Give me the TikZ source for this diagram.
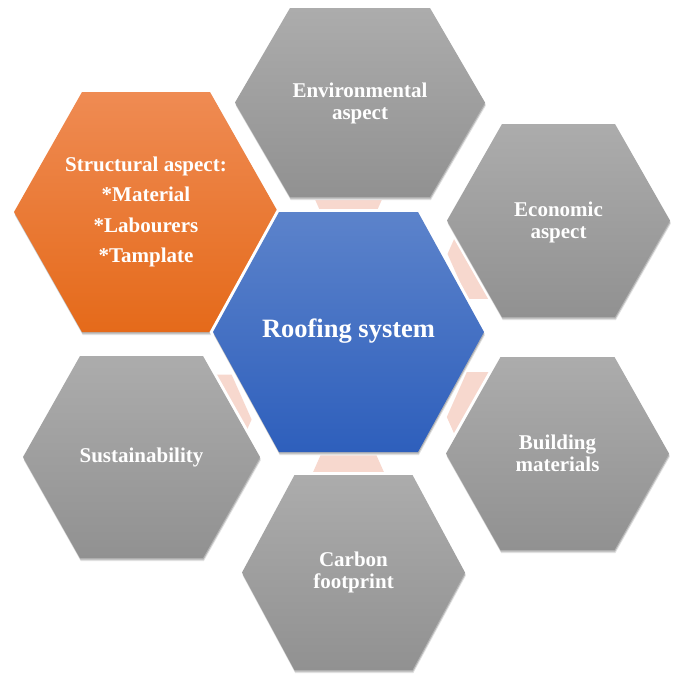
\documentclass[tikz,border=0pt]{standalone}
\usepackage{fontspec}
\setmainfont{Liberation Serif}
\usetikzlibrary{calc,shadows}
\definecolor{grayT}{RGB}{172,172,172}
\definecolor{grayB}{RGB}{145,145,145}
\definecolor{blueT}{RGB}{92,131,203}
\definecolor{blueB}{RGB}{46,95,188}
\definecolor{orT}{RGB}{239,139,83}
\definecolor{orB}{RGB}{229,106,26}
\definecolor{pinkC}{RGB}{247,216,206}
\newcommand{\hexshape}[6]{% style, cx, cy, half width, half top width, half height
  \path[#1] ({#2-#4},{#3}) -- ({#2-#5},{#3-#6}) -- ({#2+#5},{#3-#6}) -- ({#2+#4},{#3}) -- ({#2+#5},{#3+#6}) -- ({#2-#5},{#3+#6}) -- cycle;}
\begin{document}
\begin{tikzpicture}[x=1pt,y=-1pt,
  hexbase/.style={preaction={draw=white, line width=6pt},
    drop shadow={shadow xshift=0.8pt, shadow yshift=-3.2pt, opacity=0.12, fill=black},
    drop shadow={shadow xshift=0.5pt, shadow yshift=-1.6pt, opacity=0.2, fill=black}},
  grayhex/.style={hexbase, top color=grayT, bottom color=grayB},
  bluehex/.style={hexbase, top color=blueT, bottom color=blueB},
  orhex/.style={hexbase, top color=orT, bottom color=orB},
  lbl/.style={text=white, align=center, inner sep=0pt, font=\fontsize{21}{22}\selectfont\bfseries},
  pinkhex/.pic={\path[fill=pinkC] (-48,0) -- (-28,-45) -- (28,-45) -- (48,0) -- (28,45) -- (-28,45) -- cycle;}
]
\useasboundingbox (0,0) rectangle (677,673);
% centres
\coordinate (c) at (348.5,332);
\coordinate (env) at (360,102.5);
\coordinate (eco) at (558.5,220.5);
\coordinate (bld) at (557.5,453.5);
\coordinate (car) at (353.5,572.5);
\coordinate (sus) at (141.5,457);
\coordinate (str) at (146,212);
% connectors (behind)
\pic at ($(c)!0.72!(c|-env)$) {pinkhex};
\pic at ($(c)!0.7!(eco)$) {pinkhex};
\pic at ($(c)!0.7!(bld)$) {pinkhex};
\pic at ($(c)!0.7!(c|-car)$) {pinkhex};
\pic at ($(c)!0.7!(sus)$) {pinkhex};
% hexagons
\hexshape{grayhex}{360}{102.5}{125}{70}{94.5}
\hexshape{grayhex}{558.5}{220.5}{111.5}{56.5}{96.5}
\hexshape{grayhex}{557.5}{453.5}{111.5}{57}{96.5}
\hexshape{grayhex}{353.5}{572.5}{111.5}{59}{97.5}
\hexshape{grayhex}{141.5}{457}{118.5}{61.5}{101}
\hexshape{orhex}{146}{212}{132}{64}{120}
\hexshape{bluehex}{348.5}{332}{135.5}{69.5}{120}
% labels
\node[lbl] (envt) at (360,103) {Environmental\\aspect};
\node[lbl] (ecot) at (558.5,222) {Economic\\aspect};
\node[lbl] (bldt) at (557.5,453) {Building\\materials};
\node[lbl] (cart) at (353.5,572) {Carbon\\footprint};
\node[lbl] (sust) at (141.5,457) {Sustainability};
\node[lbl, font=\fontsize{21}{30.5}\selectfont\bfseries] (strt) at (146,212) {Structural aspect:\\*Material\\*Labourers\\*Tamplate};
\node[lbl, font=\fontsize{26.5}{30}\selectfont\bfseries] (ct) at (348.5,331) {Roofing system};
\end{tikzpicture}
\end{document}
